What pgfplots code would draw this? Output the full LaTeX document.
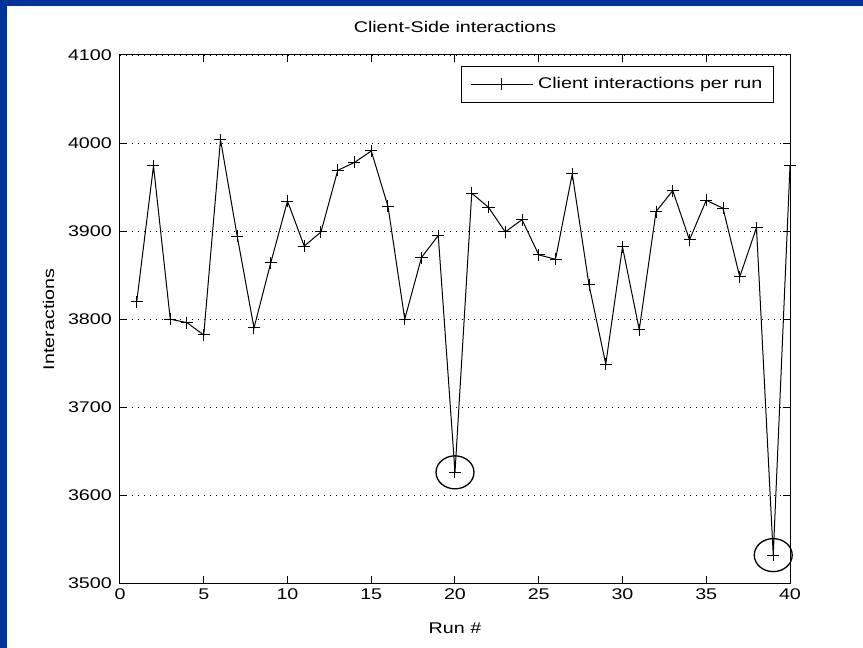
\documentclass[border=0pt]{standalone}
\usepackage{fontspec}
\setmainfont{Liberation Sans}[FakeStretch=1.27]
\usepackage{pgfplots}
\pgfplotsset{compat=1.18}
\definecolor{frameblue}{RGB}{0,51,153}
\pgfplotstableread{
x y
1 3820
2 3974
3 3800
4 3796
5 3782
6 4004
7 3894
8 3790
9 3864
10 3934
11 3883
12 3899
13 3969
14 3978
15 3991
16 3928
17 3800
18 3870
19 3895
20 3626
21 3943
22 3927
23 3899
24 3913
25 3873
26 3868
27 3965
28 3839
29 3749
30 3882
31 3788
32 3922
33 3946
34 3890
35 3935
36 3926
37 3848
38 3904
39 3532
40 3974
}\runs
\begin{document}
\fontsize{15.5}{18}\selectfont
\begin{tikzpicture}[x=1pt,y=1pt]
\path[use as bounding box] (0,0) rectangle (863,648);
\fill[frameblue] (0,0) rectangle (863,648);
\fill[white] (6.5,0) rectangle (863,642);
\begin{axis}[
  at={(120pt,64.7pt)}, anchor=south west,
  scale only axis, width=670pt, height=528.3pt,
  xmin=0, xmax=40, ymin=3500, ymax=4100,
  xtick={0,5,...,40}, ytick={3500,3600,...,4100},
  tick align=inside, major tick length=7pt,
  ymajorgrids,
  major grid style={black, line width=0.8pt, dash pattern=on 1pt off 5pt},
  axis line style={line width=1pt},
  every tick/.style={black, line width=1pt},
  /pgf/number format/assume math mode=true,
  /pgf/number format/1000 sep={},
  xticklabel style={anchor=base, inner sep=0pt, yshift=-16pt},
  yticklabel style={anchor=east, inner sep=0pt, xshift=-8pt},
  title={Client-Side interactions},
  title style={at={(axis description cs:0.5,1)}, anchor=base, yshift=16pt, inner sep=0pt},
  xlabel={Run \#},
  xlabel style={at={(axis description cs:0.5,0)}, anchor=base, yshift=-50pt, inner sep=0pt},
  ylabel={Interactions},
  ylabel style={at={(axis description cs:-0.0985,0.5)}, anchor=base, inner sep=0pt},
  clip=false,
  legend style={at={(0.976,0.979)}, anchor=north east, draw=black, line width=1pt,
    inner xsep=9pt, inner ysep=9pt, nodes={inner sep=2pt}, column sep=3pt},
  legend image code/.code={\draw[mark repeat=2,mark phase=2,#1] plot coordinates {(0pt,0pt) (31pt,0pt) (62pt,0pt)};},
]
\addplot[black, line width=1pt, mark=+, mark size=6pt, mark options={line width=1pt, solid}] table[x=x,y=y] {\runs};
\addlegendentry{Client interactions per run}
\addplot[only marks, forget plot, mark=o, mark size=16.5pt, mark options={xscale=1.15, line width=1.3pt, black}] coordinates {(20,3626) (39,3532)};
\end{axis}
\end{tikzpicture}
\end{document}
